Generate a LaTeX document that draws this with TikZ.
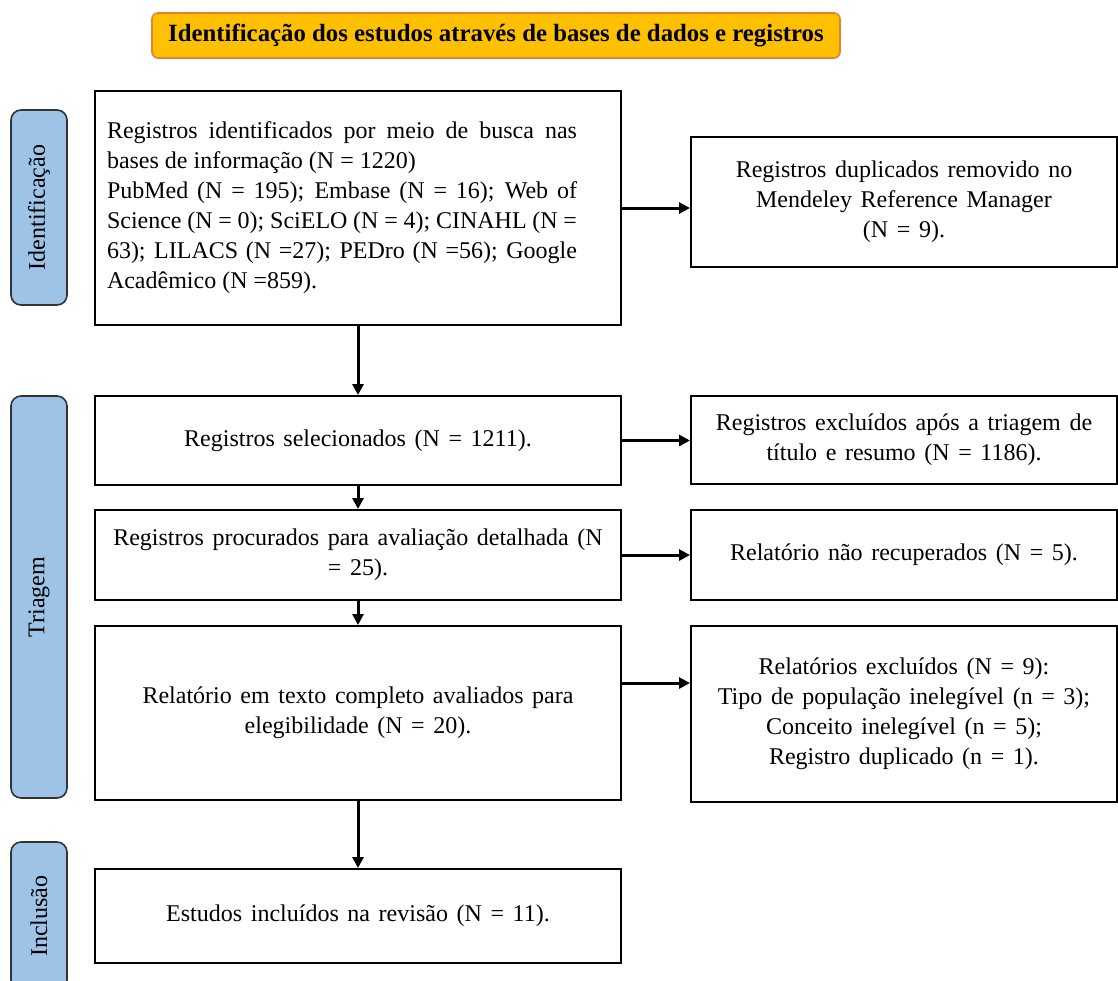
\documentclass[tikz,border=0pt]{standalone}
\usepackage{fontspec}
\setmainfont{Liberation Serif}
\usetikzlibrary{arrows.meta}
\definecolor{amarelocab}{HTML}{FFC000}
\definecolor{laranjacab}{HTML}{ED7D31}
\definecolor{azulfase}{HTML}{9DC3E6}
\newcommand{\espacolargo}{\spaceskip=4.3pt plus 1pt minus 1pt\relax}

\begin{document}
\begin{tikzpicture}[x=0.5pt, y=-0.5pt,
  caixa/.style={draw=black, line width=1pt, font=\fontsize{12}{15}\selectfont\espacolargo,
    align=center, inner sep=0pt},
  esq/.style={caixa, minimum width=263pt},
  dir/.style={caixa, minimum width=213pt},
  fase/.style={draw=black!80, line width=0.8pt, fill=azulfase, rounded corners=5pt, rotate=90,
    minimum height=28pt, font=\fontsize{12}{15}\selectfont, inner sep=0pt},
  seta/.style={-{Triangle[length=5.5pt,width=5.5pt]}, line width=1.5pt}]
  \useasboundingbox (0,0) rectangle (1118,980);

  % cabecalho
  \node[draw=laranjacab, line width=0.8pt, fill=amarelocab, rounded corners=3pt,
    minimum width=344pt, minimum height=22.5pt, inner sep=0pt,
    font=\fontsize{12.4}{15}\selectfont\bfseries] (cab) at (496,35.5)
    {Identificação dos estudos através de bases de dados e registros};

  % fases
  \node[fase, minimum width=97.5pt] (fid) at (39,207.5) {Identificação};
  \node[fase, minimum width=201pt] (ftr) at (39,597) {Triagem};
  \node[fase, minimum width=74pt] (fin) at (39,916) {Inclusão};

  % coluna da esquerda
  \node[esq, minimum height=117pt] (reg) at (358,208)
    {\parbox{235pt}{\spaceskip=0pt\relax Registros identificados por meio de busca nas bases de informação (N = 1220)\par
     PubMed (N = 195); Embase (N = 16); Web of Science (N = 0); SciELO (N = 4); CINAHL (N = 63); LILACS (N =27); PEDro (N =56); Google Acadêmico (N =859).}\hspace{16pt}};
  \node[esq, minimum height=44.5pt] (sel) at (358,440.5) {Registros selecionados (N = 1211).};
  \node[esq, minimum height=45pt] (proc) at (358,555) {Registros procurados para avaliação detalhada (N\\= 25).};
  \node[esq, minimum height=87pt] (aval) at (358,713) {Relatório em texto completo avaliados para\\elegibilidade (N = 20).};
  \node[esq, minimum height=47pt] (incl) at (358,916) {Estudos incluídos na revisão (N = 11).};

  % coluna da direita
  \node[dir, minimum height=65pt] (dup) at (904,202) {Registros duplicados removido no\\Mendeley Reference Manager\\(N = 9).};
  \node[dir, minimum height=44pt] (exc) at (904,440) {Registros excluídos após a triagem de\\título e resumo (N = 1186).};
  \node[dir, minimum height=45pt] (nrec) at (904,555) {Relatório não recuperados (N = 5).};
  \node[dir, minimum height=88pt] (rexc) at (904,714) {Relatórios excluídos (N = 9):\\Tipo de população inelegível (n = 3);\\Conceito inelegível (n = 5);\\Registro duplicado (n = 1).};

  % setas
  \draw[seta] (reg) -- (sel);
  \draw[seta] (sel) -- (proc);
  \draw[seta] (proc) -- (aval);
  \draw[seta] (aval) -- (incl);
  \draw[seta] (reg.east) -- (reg.east -| dup.west);
  \draw[seta] (sel.east) -- (sel.east -| exc.west);
  \draw[seta] (proc.east) -- (proc.east -| nrec.west);
  \coordinate (saval) at ([yshift=15pt]aval.east);
  \draw[seta] (saval) -- (saval -| rexc.west);
\end{tikzpicture}
\end{document}
